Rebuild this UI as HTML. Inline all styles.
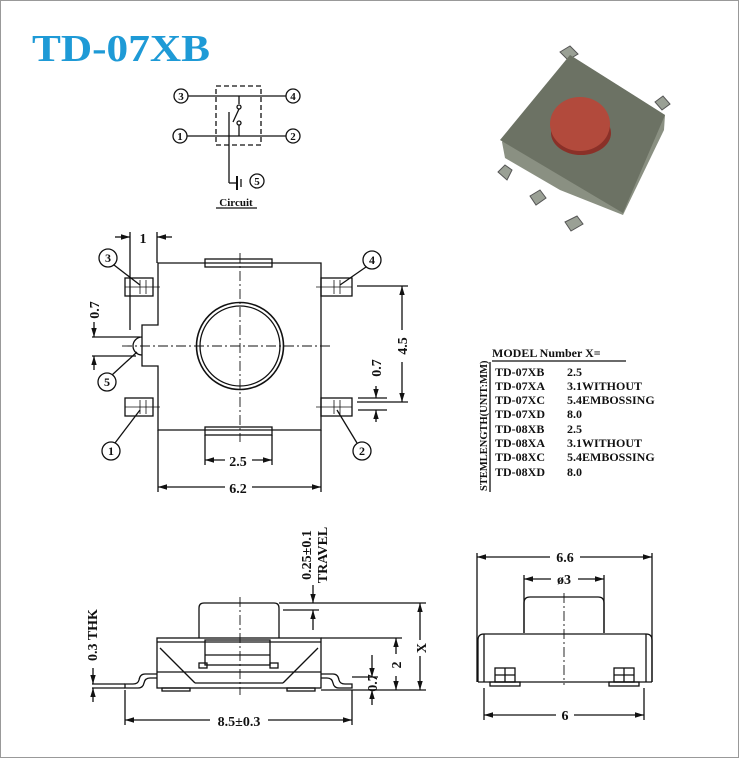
<!DOCTYPE html>
<html><head><style>
body{margin:0;background:#fff}
svg{display:block}
text{font-family:"Liberation Serif",serif;font-weight:bold;fill:#111}
</style></head><body>
<svg width="739" height="758" viewBox="0 0 739 758" xmlns="http://www.w3.org/2000/svg">
<defs>
<marker id="a" viewBox="0 0 10 10" refX="10" refY="5" markerWidth="7" markerHeight="7" orient="auto-start-reverse"><path d="M0,2 L10,5 L0,8z" fill="#111"/></marker>
</defs>
<rect x="0.5" y="0.5" width="738" height="757" fill="#fff" stroke="#999"/>
<text x="32" y="61" textLength="178" lengthAdjust="spacingAndGlyphs" style="font-size:38px;fill:#1e9ad6">TD-07XB</text>

<!-- circuit -->
<g stroke="#111" stroke-width="1.3" fill="none">
<line x1="188" y1="96" x2="286" y2="96"/><line x1="187" y1="136" x2="286" y2="136"/>
<rect x="216" y="86" width="45" height="59" stroke-dasharray="5,3"/>
<line x1="239" y1="96" x2="239" y2="104"/><circle cx="239" cy="107" r="2"/><circle cx="239" cy="123" r="2"/>
<line x1="239" y1="125" x2="239" y2="136"/><line x1="233" y1="122" x2="239" y2="109"/>
<line x1="229" y1="112" x2="229" y2="183"/><line x1="229" y1="183" x2="236" y2="183"/>
<line x1="237" y1="176" x2="237" y2="190" stroke-width="2"/><line x1="241" y1="179" x2="241" y2="187"/>
<circle cx="181" cy="96" r="7"/><circle cx="293" cy="96" r="7"/><circle cx="180" cy="136" r="7"/><circle cx="293" cy="136" r="7"/><circle cx="257" cy="181" r="7"/>
<line x1="216" y1="208" x2="257" y2="208"/>
</g>
<g style="font-size:11px" text-anchor="middle">
<text x="181" y="100">3</text><text x="293" y="100">4</text><text x="180" y="140">1</text><text x="293" y="140">2</text><text x="257" y="185">5</text>
<text x="236" y="206" style="font-size:11px">Circuit</text>
</g>

<!-- photo -->
<g>
<polygon points="498,172 505,165 512,170 507,180" fill="#9aa095" stroke="#555"/>
<polygon points="530,196 540,190 546,198 536,205" fill="#9aa095" stroke="#555"/>
<polygon points="565,222 577,216 583,224 571,231" fill="#9aa095" stroke="#555"/>
<polygon points="560,52 570,46 578,54 568,60" fill="#9aa095" stroke="#555"/>
<polygon points="655,102 663,96 670,104 662,110" fill="#9aa095" stroke="#555"/>
<polygon points="502,142 570,55 665,115 664,130 623,215 560,190 505,158" fill="#8a9082"/>
<polygon points="500,140 570,55 665,115 623,213" fill="#6c7264"/>
<ellipse cx="581" cy="133" rx="30" ry="22" fill="#8a3028"/>
<ellipse cx="580" cy="124" rx="30" ry="27" fill="#b24a3c"/>
</g>

<!-- top view -->
<g stroke="#111" stroke-width="1.3" fill="none">
<path d="M158,263 H321 V430 H158 V366 H142 V325 H158 Z"/>
<rect x="205" y="259" width="67" height="8"/><rect x="205" y="427" width="67" height="8"/>
<circle cx="240" cy="346" r="43.5" stroke-width="1.6"/><circle cx="240" cy="346" r="40"/>
<rect x="125" y="278" width="28" height="18"/><rect x="125" y="398" width="28" height="18"/>
<rect x="321" y="278" width="31" height="18"/><rect x="321" y="398" width="31" height="18"/>
<g stroke-width="0.8"><line x1="125" y1="287" x2="160" y2="287"/><line x1="140" y1="280" x2="140" y2="294"/><line x1="146" y1="280" x2="146" y2="294"/>
<line x1="125" y1="407" x2="160" y2="407"/><line x1="140" y1="400" x2="140" y2="414"/><line x1="146" y1="400" x2="146" y2="414"/>
<line x1="316" y1="287" x2="352" y2="287"/><line x1="334" y1="280" x2="334" y2="294"/><line x1="340" y1="280" x2="340" y2="294"/>
<line x1="316" y1="407" x2="352" y2="407"/><line x1="334" y1="400" x2="334" y2="414"/><line x1="340" y1="400" x2="340" y2="414"/></g>
<path d="M142,337 a9,9 0 0 0 0,18"/>
<line x1="122" y1="346" x2="332" y2="346" stroke-width="0.9" stroke-dasharray="10,3,2,3"/>
<line x1="240" y1="253" x2="240" y2="442" stroke-width="0.9" stroke-dasharray="10,3,2,3"/>
<line x1="130" y1="232" x2="130" y2="330"/><line x1="157" y1="232" x2="157" y2="263"/>
<line x1="115" y1="237" x2="130" y2="237" marker-end="url(#a)"/><line x1="172" y1="237" x2="157" y2="237" marker-end="url(#a)"/>
<line x1="357" y1="286" x2="408" y2="286"/><line x1="357" y1="402" x2="408" y2="402"/>
<line x1="402" y1="330" x2="402" y2="286" marker-end="url(#a)"/><line x1="402" y1="362" x2="402" y2="402" marker-end="url(#a)"/>
<line x1="358" y1="398" x2="387" y2="398"/><line x1="358" y1="410" x2="387" y2="410"/>
<line x1="376" y1="386" x2="376" y2="398" marker-end="url(#a)"/><line x1="376" y1="422" x2="376" y2="410" marker-end="url(#a)"/>
<line x1="92" y1="337" x2="140" y2="337"/><line x1="92" y1="356" x2="136" y2="356"/>
<line x1="94" y1="322" x2="94" y2="337" marker-end="url(#a)"/><line x1="94" y1="370" x2="94" y2="356" marker-end="url(#a)"/>
<line x1="205" y1="435" x2="205" y2="465"/><line x1="272" y1="435" x2="272" y2="465"/>
<line x1="225" y1="460" x2="205" y2="460" marker-end="url(#a)"/><line x1="252" y1="460" x2="272" y2="460" marker-end="url(#a)"/>
<line x1="158" y1="430" x2="158" y2="492"/><line x1="321" y1="430" x2="321" y2="492"/>
<line x1="225" y1="487" x2="158" y2="487" marker-end="url(#a)"/><line x1="252" y1="487" x2="321" y2="487" marker-end="url(#a)"/>
<circle cx="108" cy="258" r="9"/><circle cx="372" cy="260" r="9"/><circle cx="107" cy="382" r="9"/><circle cx="111" cy="451" r="9"/><circle cx="362" cy="451" r="9"/>
<line x1="114" y1="265" x2="140" y2="285"/><line x1="366" y1="267" x2="340" y2="285"/>
<line x1="112" y1="375" x2="137" y2="352"/><line x1="115" y1="443" x2="140" y2="410"/><line x1="357" y1="443" x2="337" y2="410"/>
</g>
<g style="font-size:14px" text-anchor="middle">
<text x="143" y="243">1</text>
<text x="238" y="466">2.5</text><text x="238" y="493">6.2</text>
<text transform="translate(407,346) rotate(-90)">4.5</text>
<text transform="translate(381,368) rotate(-90)">0.7</text>
<text transform="translate(99,310) rotate(-90)">0.7</text>
<g style="font-size:12px"><text x="108" y="262">3</text><text x="372" y="264">4</text><text x="107" y="386">5</text><text x="111" y="455">1</text><text x="362" y="455">2</text></g>
</g>

<!-- table -->
<g style="font-size:12px;font-family:'Liberation Mono',monospace">
<text x="492" y="357">MODEL Number X=</text>
<line x1="492" y1="361" x2="626" y2="361" stroke="#111" stroke-width="1.3"/>
<line x1="490" y1="362" x2="490" y2="492" stroke="#111" stroke-width="1.3"/>
<text transform="translate(487,491) rotate(-90)" style="font-size:10.5px">STEMLENGTH(UNIT:MM)</text>
<g>
<text x="495" y="376">TD-07XB</text><text x="567" y="376">2.5</text>
<text x="495" y="390">TD-07XA</text><text x="567" y="390">3.1WITHOUT</text>
<text x="495" y="404">TD-07XC</text><text x="567" y="404">5.4EMBOSSING</text>
<text x="495" y="418">TD-07XD</text><text x="567" y="418">8.0</text>
<text x="495" y="433">TD-08XB</text><text x="567" y="433">2.5</text>
<text x="495" y="447">TD-08XA</text><text x="567" y="447">3.1WITHOUT</text>
<text x="495" y="461">TD-08XC</text><text x="567" y="461">5.4EMBOSSING</text>
<text x="495" y="476">TD-08XD</text><text x="567" y="476">8.0</text>
</g>
</g>

<!-- side view -->
<g stroke="#111" stroke-width="1.3" fill="none">
<path d="M199,638 V608 q0,-5 5,-5 H274 q5,0 5,5 V638"/>
<rect x="157" y="638" width="164" height="50"/>
<line x1="157" y1="642" x2="321" y2="642"/>
<rect x="205" y="640" width="65" height="25"/><line x1="205" y1="655" x2="270" y2="655"/>
<rect x="199" y="663" width="8" height="5"/><rect x="270" y="663" width="8" height="5"/>
<line x1="160" y1="648" x2="195" y2="683"/><line x1="318" y1="648" x2="283" y2="683"/>
<line x1="157" y1="672" x2="321" y2="672"/><line x1="195" y1="683" x2="283" y2="683"/>
<path d="M157,674 H145 q-5,0 -6,6 q-1,4 -6,4 H125 V688 H138 q5,0 6,-5 q1,-5 6,-5 H157"/>
<path d="M321,674 H333 q5,0 6,6 q1,4 6,4 H352 V688 H339 q-5,0 -6,-5 q-1,-5 -6,-5 H321"/>
<rect x="162" y="688" width="28" height="3"/><rect x="287" y="688" width="28" height="3"/>
<line x1="240" y1="597" x2="240" y2="695" stroke-width="0.9" stroke-dasharray="10,3,2,3"/>
<line x1="279" y1="603" x2="426" y2="603"/><line x1="283" y1="610" x2="319" y2="610"/>
<line x1="313" y1="585" x2="313" y2="603" marker-end="url(#a)"/><line x1="313" y1="630" x2="313" y2="610" marker-end="url(#a)"/>
<line x1="321" y1="638" x2="402" y2="638"/><line x1="321" y1="690" x2="426" y2="690"/><line x1="352" y1="677" x2="378" y2="677"/>
<line x1="420" y1="640" x2="420" y2="603" marker-end="url(#a)"/><line x1="420" y1="656" x2="420" y2="690" marker-end="url(#a)"/>
<line x1="396" y1="654" x2="396" y2="638" marker-end="url(#a)"/><line x1="396" y1="676" x2="396" y2="690" marker-end="url(#a)"/>
<line x1="372" y1="655" x2="372" y2="677" marker-end="url(#a)"/><line x1="372" y1="705" x2="372" y2="690" marker-end="url(#a)"/>
<line x1="125" y1="690" x2="125" y2="725"/><line x1="352" y1="690" x2="352" y2="725"/>
<line x1="210" y1="720" x2="125" y2="720" marker-end="url(#a)"/><line x1="268" y1="720" x2="352" y2="720" marker-end="url(#a)"/>
<line x1="92" y1="684" x2="125" y2="684"/><line x1="92" y1="688" x2="125" y2="688"/>
<line x1="93" y1="668" x2="93" y2="684" marker-end="url(#a)"/><line x1="93" y1="702" x2="93" y2="688" marker-end="url(#a)"/>
</g>
<g style="font-size:14px" text-anchor="middle">
<text x="239" y="726">8.5±0.3</text>
<text transform="translate(426,648) rotate(-90)">X</text>
<text transform="translate(401,665) rotate(-90)">2</text>
<text transform="translate(377,683) rotate(-90)">0.7</text>
<text transform="translate(97,635) rotate(-90)">0.3 THK</text>
<text transform="translate(311,555) rotate(-90)">0.25±0.1</text>
<text transform="translate(327,555) rotate(-90)">TRAVEL</text>
</g>

<!-- front view -->
<g stroke="#111" stroke-width="1.3" fill="none">
<line x1="477" y1="553" x2="477" y2="682"/><line x1="652" y1="553" x2="652" y2="682"/>
<line x1="550" y1="557" x2="477" y2="557" marker-end="url(#a)"/><line x1="580" y1="557" x2="652" y2="557" marker-end="url(#a)"/>
<line x1="524" y1="575" x2="524" y2="633"/><line x1="604" y1="575" x2="604" y2="633"/>
<line x1="551" y1="579" x2="524" y2="579" marker-end="url(#a)"/><line x1="578" y1="579" x2="604" y2="579" marker-end="url(#a)"/>
<path d="M524,633 V603 q0,-6 6,-6 H598 q6,0 6,6 V633"/>
<path d="M478,682 V640 q0,-6 6,-6 H646 q6,0 6,6 V682"/>
<line x1="484" y1="634" x2="484" y2="682"/><line x1="646" y1="634" x2="646" y2="682"/>
<line x1="478" y1="682" x2="652" y2="682"/>
<rect x="495" y="668" width="20" height="14"/><line x1="505" y1="668" x2="505" y2="682"/><line x1="495" y1="675" x2="515" y2="675"/>
<rect x="614" y="668" width="20" height="14"/><line x1="624" y1="668" x2="624" y2="682"/><line x1="614" y1="675" x2="634" y2="675"/>
<rect x="490" y="682" width="30" height="4"/><rect x="609" y="682" width="30" height="4"/>
<line x1="564" y1="593" x2="564" y2="685" stroke-width="0.9" stroke-dasharray="10,3,2,3"/>
<line x1="484" y1="688" x2="484" y2="720"/><line x1="644" y1="688" x2="644" y2="720"/>
<line x1="556" y1="715" x2="484" y2="715" marker-end="url(#a)"/><line x1="574" y1="715" x2="644" y2="715" marker-end="url(#a)"/>
</g>
<g style="font-size:14px" text-anchor="middle">
<text x="565" y="562">6.6</text><text x="564" y="584">ø3</text><text x="565" y="720">6</text>
</g>
</svg>
</body></html>
